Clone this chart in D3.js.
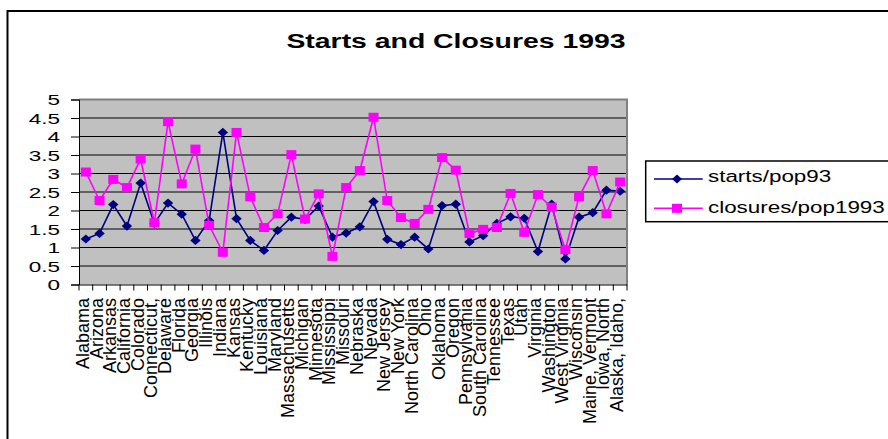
<!DOCTYPE html>
<html><head><meta charset="utf-8">
<script src="https://cdn.jsdelivr.net/npm/d3@7"></script>
<style>body{margin:0;background:#fff}svg{display:block}text{font-family:Arial,"Liberation Sans",sans-serif}</style>
</head><body><svg id="c" width="888" height="439"></svg>
<script>
const states = ["Alabama","Arizona","Arkansas","California","Colorado","Connecticut,","Delaware","Florida","Georgia","Illinois","Indiana","Kansas","Kentucky","Louisiana","Maryland","Massachusetts","Michigan","Minnesota","Mississippi","Missouri","Nebraska","Nevada","New Jersey","New York","North Carolina","Ohio","Oklahoma","Oregon","Pennsylvania","South Carolina","Tennessee","Texas","Utah","Virginia","Washington","West Virginia","Wisconsin","Maine, Vermont","Iowa, North","Alaska, Idaho,"];
const starts = [1.23,1.38,2.16,1.58,2.74,1.65,2.2,1.9,1.19,1.73,4.11,1.78,1.19,0.92,1.46,1.82,1.76,2.12,1.28,1.39,1.56,2.24,1.22,1.08,1.28,0.96,2.13,2.17,1.15,1.32,1.65,1.83,1.79,0.89,2.17,0.69,1.82,1.94,2.55,2.52];
const closures = [3.04,2.27,2.84,2.62,3.39,1.67,4.4,2.72,3.66,1.6,0.87,4.11,2.37,1.54,1.91,3.51,1.77,2.45,0.76,2.62,3.08,4.52,2.27,1.81,1.65,2.03,3.43,3.09,1.38,1.49,1.54,2.46,1.41,2.43,2.09,0.94,2.37,3.08,1.91,2.77];
const yTicks = [0,0.5,1,1.5,2,2.5,3,3.5,4,4.5,5];
const seriesNames = ["starts/pop93","closures/pop1993"];
const title = "Starts and Closures 1993";

const svg = d3.select("#c");
const L=79, R=627, T=99.5, B=284.5;
const x = d3.scaleBand().domain(states).range([L,R]);
const y = d3.scaleLinear().domain([0,5]).range([B,T]);

// outer frame
svg.append("rect").attr("x",7.5).attr("y",11).attr("width",1000).attr("height",1000)
  .attr("fill","#fff").attr("stroke","#000").attr("stroke-width",2);

// title
svg.append("text").attr("transform",`translate(456,48) scale(1.42,1)`)
  .attr("text-anchor","middle").attr("font-size",20).attr("font-weight","bold").text(title);

// plot bg
svg.append("rect").attr("x",L).attr("y",T).attr("width",R-L).attr("height",B-T).attr("fill","#c0c0c0");
// gridlines
svg.append("g").selectAll("line").data(yTicks.filter(d=>d>0&&d<5)).join("line")
  .attr("x1",L).attr("x2",R).attr("y1",d=>y(d)).attr("y2",d=>y(d)).attr("stroke","#000").attr("stroke-width",1);
// plot border top/right grey
svg.append("path").attr("d",`M${L},${T}H${R}V${B}`).attr("fill","none").attr("stroke","#808080").attr("stroke-width",2);

// y axis
const ya = svg.append("g").attr("transform",`translate(${L},0)`)
  .call(d3.axisLeft(y).tickValues(yTicks).tickSize(8).tickFormat(d=>String(d)));
ya.select(".domain").attr("stroke","#000");
ya.selectAll(".tick line").attr("stroke","#000");
ya.selectAll(".tick text").attr("font-size",15).attr("fill","#000")
  .attr("x",-19/1.5).attr("dy","0.36em").attr("transform","scale(1.5,1)")
  .style("font-family","Arial,'Liberation Sans',sans-serif");

// x axis
const xa = svg.append("g").attr("transform",`translate(0,${B})`)
  .call(d3.axisBottom(x).tickSize(0).tickFormat(""));
xa.select(".domain").attr("stroke","#000");
const bounds = states.map(s=>x(s)).concat([R]);
svg.append("g").selectAll("line").data(bounds).join("line")
  .attr("x1",d=>d).attr("x2",d=>d).attr("y1",B).attr("y2",B+6).attr("stroke","#000");
svg.append("g").selectAll("text").data(states).join("text")
  .attr("transform",d=>`translate(${x(d)+x.bandwidth()/2+3},298) rotate(-90)`)
  .attr("text-anchor","end").attr("font-size",18).attr("fill","#000").text(d=>d);

const cx = i => x(states[i]) + x.bandwidth()/2;
const line = d3.line().x((d,i)=>cx(i)).y(d=>y(d));
const diamond = (px,py,w,h) => `M${px-w},${py}L${px},${py-h}L${px+w},${py}L${px},${py+h}Z`;

// starts
svg.append("path").datum(starts).attr("d",line).attr("fill","none").attr("stroke","#000080").attr("stroke-width",1.6);
svg.append("g").selectAll("path").data(starts).join("path")
  .attr("d",(d,i)=>diamond(cx(i),y(d),5.2,4.6)).attr("fill","#000080");
// closures
svg.append("path").datum(closures).attr("d",line).attr("fill","none").attr("stroke","#ff00ff").attr("stroke-width",1.6);
svg.append("g").selectAll("rect").data(closures).join("rect")
  .attr("x",(d,i)=>cx(i)-5).attr("y",d=>y(d)-4.5).attr("width",10).attr("height",9).attr("fill","#ff00ff");

// legend
svg.append("rect").attr("x",645.7).attr("y",161).attr("width",300).attr("height",60.7)
  .attr("fill","#fff").attr("stroke","#000").attr("stroke-width",1.5);
const leg = [{n:seriesNames[0],c:"#000080",ly:179,bl:182,m:"d"},{n:seriesNames[1],c:"#ff00ff",ly:208.3,bl:212.5,m:"s"}];
leg.forEach(o=>{
  svg.append("line").attr("x1",654).attr("x2",702.7).attr("y1",o.ly).attr("y2",o.ly).attr("stroke",o.c).attr("stroke-width",1.6);
  if(o.m==="d") svg.append("path").attr("d",diamond(677,o.ly,5,4.5)).attr("fill",o.c);
  else svg.append("rect").attr("x",672).attr("y",o.ly-4.5).attr("width",10).attr("height",9).attr("fill",o.c);
  svg.append("text").attr("transform",`translate(708,${o.bl}) scale(1.4,1)`).attr("font-size",16).attr("fill","#000").text(o.n);
});
</script></body></html>
